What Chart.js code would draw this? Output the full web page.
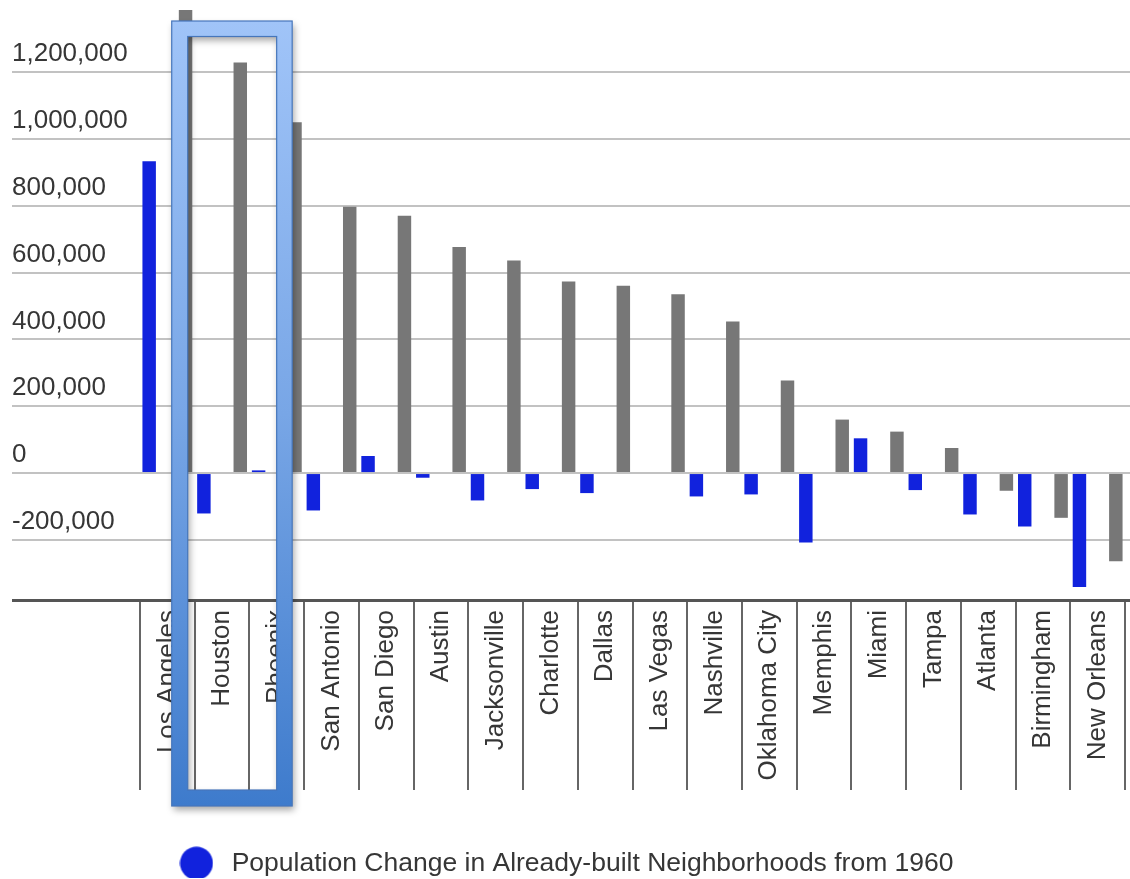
<!DOCTYPE html>
<html>
<head>
<meta charset="utf-8">
<script src="https://cdn.jsdelivr.net/npm/chart.js@4/dist/chart.umd.min.js"></script>
<style>
  html, body { margin: 0; padding: 0; background: #ffffff; }
  #wrap { width: 1130px; height: 879px; position: relative; }
</style>
</head>
<body>
<div id="wrap"><canvas id="chart" width="1130" height="879"></canvas></div>
<script>
// Cities, ordered by total growth since 1960
const cities = ['Los Angeles', 'Houston', 'Phoenix', 'San Antonio', 'San Diego', 'Austin',
  'Jacksonville', 'Charlotte', 'Dallas', 'Las Vegas', 'Nashville', 'Oklahoma City',
  'Memphis', 'Miami', 'Tampa', 'Atlanta', 'Birmingham', 'New Orleans'];

// Population change inside neighborhoods that already existed in 1960
const builtChange = [933000, -121000, 8000, -112000, 51000, -14000, -82000, -48000, -60000,
  null, -70000, -64000, -208000, 104000, -51000, -124000, -160000, -341000];

// Total population change since 1960
const totalChange = [1386000, 1229000, 1050000, 797000, 770000, 677000, 636000, 573000, 561000,
  535000, 454000, 277000, 160000, 124000, 75000, -53000, -134000, -264000];

// Value axis range and labelled ticks
const yMin = -380000;
const yMax = 1410000;
const yTicks = [-200000, 0, 200000, 400000, 600000, 800000, 1000000, 1200000];

const BLUE = '#1122dd';
const GREY = '#777777';
const GRID = '#c2c2c2';
const AXIS = '#555555';
const TEXT = '#363636';
const FONT = '"Liberation Sans", Arial, Helvetica, sans-serif';

// Round legend marker
const legendDot = (() => {
  const c = document.createElement('canvas');
  c.width = 34; c.height = 34;
  const g = c.getContext('2d');
  g.fillStyle = BLUE;
  g.beginPath(); g.arc(17, 17, 16.5, 0, Math.PI * 2); g.fill();
  return c;
})();

// Gridlines at the labelled values, plus the heavy baseline at the bottom of the range
function setValueTicks(scale) {
  scale.ticks = [yMin].concat(yTicks).map((v) => ({ value: v }));
}
function gridColor(ctx) {
  return ctx.tick && ctx.tick.value === yMin ? AXIS : GRID;
}
function gridWidth(ctx) {
  return ctx.tick && ctx.tick.value === yMin ? 3 : 2;
}

// Legend sits slightly left of the canvas centre
const legendShift = {
  id: 'legendShift',
  afterLayout(chart) {
    if (chart.legend) {
      chart.legend.left -= 7;
      chart.legend.right -= 7;
    }
  }
};

// Highlight frame around Houston and Phoenix
const highlightFrame = {
  id: 'highlightFrame',
  afterDraw(chart) {
    const x = chart.scales.x;
    const area = chart.chartArea;
    const cat = (x.getPixelForValue(1) - x.getPixelForValue(0));
    const houstonLeft = x.getPixelForValue(1) - cat / 2;
    const phoenixRight = x.getPixelForValue(2) + cat / 2;
    const ox1 = houstonLeft - 23, ox2 = phoenixRight - 12;
    const oy1 = area.top + 19, oy2 = area.bottom + 206;
    const t = 15.5;
    const ix1 = ox1 + t + 0.5, ix2 = ox2 - t, iy1 = oy1 + t, iy2 = oy2 - 16;
    const c = chart.ctx;
    c.save();
    const grad = c.createLinearGradient(0, oy1, 0, oy2);
    grad.addColorStop(0, '#a0c4f8');
    grad.addColorStop(0.5, '#78a6e6');
    grad.addColorStop(1, '#3e7bcc');
    c.beginPath();
    c.rect(ox1, oy1, ox2 - ox1, oy2 - oy1);
    c.rect(ix1, iy1, ix2 - ix1, iy2 - iy1);
    c.shadowColor = 'rgba(0,0,0,0.35)';
    c.shadowBlur = 7;
    c.shadowOffsetX = 2;
    c.shadowOffsetY = 4;
    c.fillStyle = grad;
    c.fill('evenodd');
    c.shadowColor = 'rgba(0,0,0,0)';
    c.lineWidth = 1.2;
    c.strokeStyle = '#4676bb';
    c.strokeRect(ox1, oy1, ox2 - ox1, oy2 - oy1);
    c.strokeRect(ix1, iy1, ix2 - ix1, iy2 - iy1);
    c.restore();
  }
};

new Chart(document.getElementById('chart'), {
  type: 'bar',
  data: {
    labels: cities,
    datasets: [
      {
        label: 'Population Change in Already-built Neighborhoods from 1960',
        data: builtChange,
        backgroundColor: BLUE,
        categoryPercentage: 1.33,
        barPercentage: 0.37
      },
      {
        label: 'Total Population Change from 1960',
        data: totalChange,
        backgroundColor: GREY,
        categoryPercentage: 1.33,
        barPercentage: 0.37
      }
    ]
  },
  options: {
    responsive: false,
    animation: false,
    devicePixelRatio: 1,
    layout: { padding: { left: 12, right: 0, top: 2, bottom: 1 } },
    plugins: {
      tooltip: { enabled: false },
      legend: {
        position: 'bottom',
        align: 'center',
        maxHeight: 32,
        labels: {
          filter: (item) => item.datasetIndex === 0,
          usePointStyle: true,
          pointStyle: legendDot,
          pointStyleWidth: 44,
          padding: 4,
          color: TEXT,
          font: { family: FONT, size: 26.5 }
        }
      }
    },
    scales: {
      x: {
        offset: true,
        border: { display: false },
        grid: {
          offset: true,
          drawOnChartArea: false,
          drawTicks: true,
          tickLength: 190,
          color: '#666666',
          lineWidth: 2
        },
        ticks: {
          autoSkip: false,
          maxRotation: 90,
          minRotation: 90,
          padding: -180,
          color: TEXT,
          font: { family: FONT, size: 26 }
        },
        afterFit(scale) { scale.height = 246; }
      },
      y: {
        position: 'left',
        min: yMin,
        max: yMax,
        border: { display: false },
        grid: {
          color: gridColor,
          lineWidth: gridWidth,
          drawTicks: true,
          tickLength: 128
        },
        ticks: {
          mirror: true,
          padding: -128,
          labelOffset: -18,
          color: TEXT,
          font: { family: FONT, size: 26 },
          callback: (v) => (v === yMin ? '' : Number(v).toLocaleString('en-US'))
        },
        afterBuildTicks: setValueTicks,
        afterFit(scale) { scale.width = 128; }
      },
      yEdge: {
        position: 'right',
        min: yMin,
        max: yMax,
        border: { display: false },
        grid: {
          color: gridColor,
          lineWidth: gridWidth,
          drawOnChartArea: false,
          drawTicks: true,
          tickLength: 5
        },
        ticks: { display: false },
        afterBuildTicks: setValueTicks,
        afterFit(scale) { scale.width = 5; }
      }
    }
  },
  plugins: [legendShift, highlightFrame]
});
</script>
</body>
</html>
